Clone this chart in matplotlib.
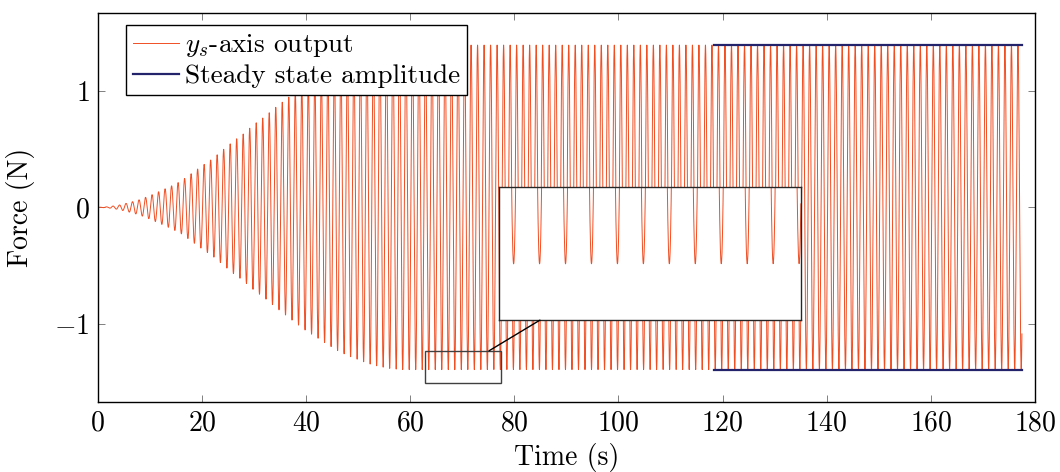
import numpy as np
import matplotlib
matplotlib.use("Agg")
import matplotlib.pyplot as plt
from matplotlib.patches import Rectangle, ConnectionPatch

plt.rcParams["font.family"] = "serif"
plt.rcParams["font.serif"] = ["cmr10"]
plt.rcParams["mathtext.fontset"] = "cm"
plt.rcParams["axes.formatter.use_mathtext"] = True
plt.rcParams["axes.unicode_minus"] = True

# envelope of the y_s output (time in s, amplitude in N)
env_t = [0, 2, 4, 6, 8, 10, 12, 14, 16, 18, 20, 22, 24, 26, 28, 30, 32, 34,
         36, 38, 40, 42, 44, 46, 48, 50, 52, 54, 56, 58, 60, 177.5]
env_amp = [0.0, 0.005, 0.018, 0.04, 0.065, 0.10, 0.14, 0.18, 0.225, 0.29,
           0.355, 0.415, 0.49, 0.565, 0.63, 0.71, 0.775, 0.85, 0.92, 0.99,
           1.057, 1.113, 1.17, 1.226, 1.27, 1.304, 1.339, 1.362, 1.379,
           1.389, 1.39, 1.39]
omega = 5.025    # rad/s, read from the spacing of the troughs
phase = -0.57
t_end = 177.5

steady_t = [118.4, 177.5]
steady_amp = 1.39

spy_x = [62.86, 77.40]
spy_y = [-1.508, -1.229]

red = "#F04E23"
navy = "#23236B"
fs = 20

t = np.arange(0, t_end, 0.01)
ys = np.interp(t, env_t, env_amp) * np.sin(omega * t + phase)

fig = plt.figure(figsize=(10.6, 4.72), dpi=100)
ax = fig.add_axes([0.0922, 0.1477, 0.8842, 0.8248])

ax.plot(t, ys, color=red, linewidth=0.7, label="$y_s$-axis output")
ax.plot(steady_t, [steady_amp, steady_amp], color=navy, linewidth=1.6,
        label="Steady state amplitude")
ax.plot(steady_t, [-steady_amp, -steady_amp], color=navy, linewidth=1.6)

ax.set_xlim(0, 180)
ax.set_ylim(-1.67, 1.665)
ax.set_xticks(np.arange(0, 181, 20))
ax.set_yticks([-1, 0, 1])
ax.tick_params(direction="in", length=5, width=0.7, color="0.5",
               top=True, right=True, labelsize=fs, pad=6)
for s in ax.spines.values():
    s.set_linewidth(1.0)
ax.set_xlabel("Time (s)", fontsize=fs, labelpad=4)
ax.set_ylabel("Force (N)", fontsize=fs, labelpad=14)

leg = ax.legend(loc="upper left", bbox_to_anchor=(0.03, 0.969), fontsize=19.6,
                frameon=True, fancybox=False, framealpha=1, edgecolor="black",
                handlelength=1.7, handletextpad=0.2, borderpad=0.26,
                labelspacing=0.18, borderaxespad=0)
leg.get_frame().set_linewidth(1.0)

# spy box on the main axes
ax.add_patch(Rectangle((spy_x[0], spy_y[0]), spy_x[1] - spy_x[0],
                       spy_y[1] - spy_y[0], fill=False, edgecolor="0.25",
                       linewidth=1.0, zorder=5))

# magnified inset
ins = ax.inset_axes([0.428, 0.211, 0.322, 0.342])
ins.plot(t, ys, color=red, linewidth=0.7)
ins.set_xlim(spy_x)
ins.set_ylim(spy_y)
ins.set_xticks([])
ins.set_yticks([])
for s in ins.spines.values():
    s.set_linewidth(1.0)
    s.set_edgecolor("0.15")

con = ConnectionPatch(xyA=(75.15, spy_y[1]), coordsA=ax.transData,
                      xyB=(0.136, 0.0), coordsB=ins.transAxes,
                      color="black", linewidth=1.0, zorder=6)
fig.add_artist(con)

fig.savefig("out.png", dpi=100)
